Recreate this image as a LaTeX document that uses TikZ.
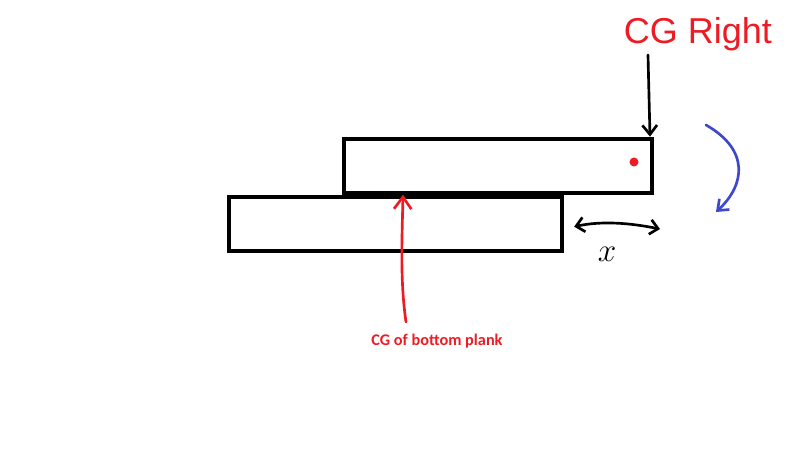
\documentclass[tikz,border=0pt]{standalone}
\usepackage{fontspec}
\setmainfont{Liberation Sans}
\newfontfamily\labelfont{Carlito}
\usetikzlibrary{arrows.meta}
\definecolor{pen}{RGB}{237,28,36}
\definecolor{bluepen}{RGB}{63,72,204}
\tikzset{plank/.style={draw,line width=3pt,minimum height=41pt,inner sep=0pt},
	stroke/.style={line width=2pt,-{Straight Barb[length=7pt,width=11pt]}}}
\begin{document}
\begin{tikzpicture}[x=0.75pt,y=-0.75pt,line cap=round]
	\useasboundingbox (0,0) rectangle (800,463);
	\node[plank,minimum width=231pt] (top) at (498,166) {};
	\node[plank,minimum width=250pt] (bottom) at (395.5,224) {};
	\fill[pen] (634,162) circle (4.5);
	\node[text=pen,font=\fontsize{27}{27}\selectfont] (cgright) at (698,34) {CG Right};
	\coordinate (down) at (648,55);
	\coordinate (gap) at (660,229);
	\coordinate (up) at (406,322);
	\draw[stroke] (down)--(top.north east-|650,0);
	\draw[bluepen,stroke] (706,125) .. controls (750,150) and (745,185) .. (716,212);
	\node[font=\fontsize{24}{24}\selectfont] (x) at (607,254) {$x$};
	\draw[stroke,{Straight Barb[length=6pt,width=11pt]}-{Straight Barb[length=6pt,width=11pt]}] ([xshift=7.5pt,yshift=-2pt]bottom.east) .. controls +(28,-6) and +(-30,-6) .. (gap);
	\node[text=pen,font=\labelfont\bfseries\fontsize{12.2}{12.2}\selectfont] (cgbottom) at (437,341) {CG of bottom plank};
	\draw[pen,stroke,-{Straight Barb[length=9pt,width=13pt]}] (up) .. controls (400,280) and (402,240) .. (bottom.north-|403,0);
\end{tikzpicture}
\end{document}
